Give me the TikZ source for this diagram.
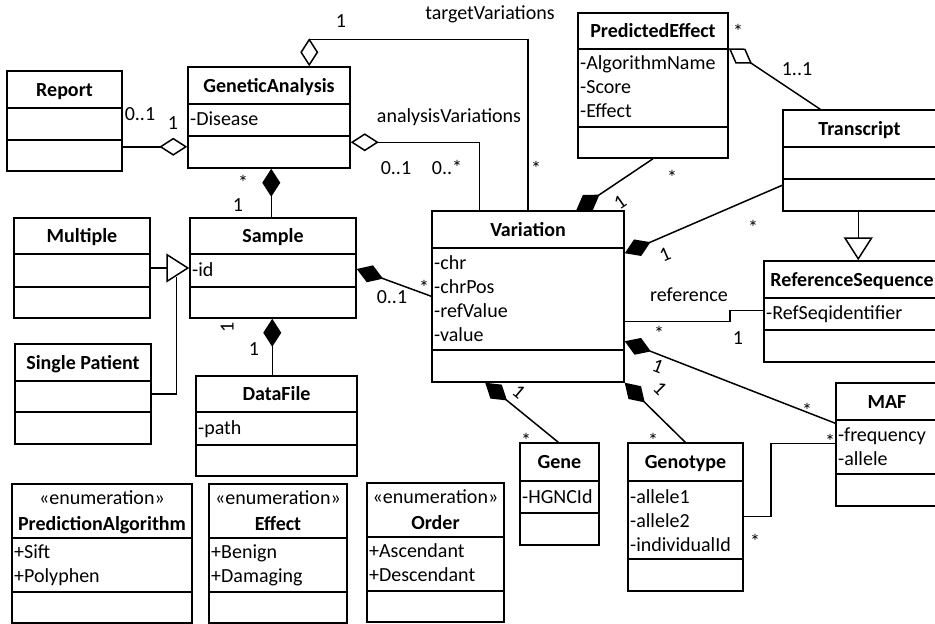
\documentclass[tikz,border=0pt]{standalone}
\usepackage{fontspec}
\setmainfont{Carlito}
\usetikzlibrary{arrows.meta,calc}

\tikzset{
  box/.style={draw, line width=1.5pt, inner sep=0pt},
  conn/.style={line width=1.5pt},
  txt/.style={font=\fontsize{20}{24}\selectfont, inner sep=0pt, text height=13pt, text depth=0pt},
  hdr/.style={txt, font=\fontsize{20}{24}\selectfont\bfseries},
  attr/.style={txt, anchor=west},
  lbl/.style={txt},
  star/.style={txt, yshift=-5pt},
  comp/.style={conn, {Diamond[length=28pt,width=18pt]}-},
  agg/.style={conn, {Diamond[open,length=28pt,width=18pt]}-},
  gen/.style={conn, -{Triangle[open,length=23pt,width=29pt]}},
}

% class box: name, x1, y1, x2, y2, first divider, second divider, title
\newcommand\umlclass[8]{%
  \node[box, minimum width={(#4-#2)*1pt}, minimum height={(#5-#3)*1pt}]
    (#1) at ({(#2+#4)/2},{(#3+#5)/2}) {};
  \draw[conn] (#2,#6) -- (#4,#6) (#2,#7) -- (#4,#7);
  \node[hdr] (#1-title) at ({(#2+#4)/2},{(#3+#6)/2}) {#8};
}
% attribute lines: class name, x of left edge, y of first line, list
\newcommand\umlattrs[4]{%
  \foreach \t [count=\i from 0] in {#4}
    \node[attr] (#1-a\i) at ({#2+2},{#3+24*\i}) {\t};
}

\begin{document}
\begin{tikzpicture}[x=1pt,y=-1pt]
\useasboundingbox (0,0) rectangle (935,624);
\clip (0,0) rectangle (935,624);

% classes
\umlclass{report}{7}{71}{122}{171}{108}{140}{Report}
\umlclass{ga}{188}{67}{350}{168}{104}{136}{GeneticAnalysis}
\umlattrs{ga}{188}{119}{-Disease}
\umlclass{multiple}{14}{218}{150}{318}{254}{287}{Multiple}
\umlclass{single}{15}{344}{151}{444}{381}{412}{Single Patient}
\umlclass{sample}{190}{218}{356}{318}{254}{287}{Sample}
\umlattrs{sample}{190}{270}{-id}
\umlclass{datafile}{196}{376}{357}{476}{412}{445}{DataFile}
\umlattrs{datafile}{196}{428}{-path}
\umlclass{var}{432}{211}{624}{382}{248}{350}{Variation}
\umlattrs{var}{432}{263}{-chr,-chrPos,-refValue,-value}
\umlclass{pe}{578}{13}{728}{158}{49}{127}{PredictedEffect}
\umlattrs{pe}{578}{63}{-AlgorithmName,-Score,-Effect}
\umlclass{transcript}{783}{110}{936}{211}{147}{179}{Transcript}
\umlclass{refseq}{764}{261}{940}{362}{298}{330}{ReferenceSequence}
\umlattrs{refseq}{764}{313}{-RefSeqidentifier}
\umlclass{maf}{836}{383}{938}{506}{420}{474}{MAF}
\umlattrs{maf}{836}{435}{-frequency,-allele}
\umlclass{gene}{520}{443}{599}{545}{481}{513}{Gene}
\umlattrs{gene}{520}{497}{-HGNCId}
\umlclass{genotype}{628}{443}{743}{591}{481}{559}{Genotype}
\umlattrs{genotype}{628}{497}{-allele1,-allele2,-individualId}

% enumerations
\umlclass{predalg}{12}{484}{192}{623}{538}{592}{}
\node[txt] (predalg-st) at (102,498) {«enumeration»};
\node[hdr] (predalg-nm) at (102,524) {PredictionAlgorithm};
\umlattrs{predalg}{12}{552}{+Sift,+Polyphen}
\umlclass{effect}{209}{484}{347}{623}{538}{592}{}
\node[txt] (effect-st) at (278,498) {«enumeration»};
\node[hdr] (effect-nm) at (278,524) {Effect};
\umlattrs{effect}{209}{552}{+Benign,+Damaging}
\umlclass{order}{367}{483}{504}{622}{537}{591}{}
\node[txt] (order-st) at (435.5,497) {«enumeration»};
\node[hdr] (order-nm) at (435.5,523) {Order};
\umlattrs{order}{367}{551}{+Ascendant,+Descendant}

% Report -- GeneticAnalysis
\coordinate (gaL) at ($(ga.south west)+(0,-22)$);
\draw[agg] (gaL) -- (gaL -| report.east);
\node[lbl] (l-rep1) at (140,114) {0..1};
\node[lbl] (l-rep2) at (173,123) {1};

% targetVariations
\coordinate (gaT) at ($(ga.north west)+(122,0)$);
\draw[agg] (gaT) -- ++(0,-27) -| (var.north);
\node[lbl] (l-tv0) at (341,21) {1};
\node[lbl] (l-tv) at (490,13) {targetVariations};
\node[star] (l-tv1) at (536,164) {*};

% analysisVariations
\coordinate (gaR) at ($(ga.north east)+(0,76)$);
\coordinate (varT) at ($(var.north west)+(48,0)$);
\draw[agg] (gaR) -| (varT);
\node[lbl] (l-av) at (449,116) {analysisVariations};
\node[lbl] (l-av0) at (396,168) {0..1};
\node[lbl] (l-av1) at (447,168) {0..*};

% GeneticAnalysis -- Sample
\coordinate (gaB) at ($(ga.south west)+(84,0)$);
\draw[comp] (gaB) -- (gaB |- sample.north);
\node[star] (l-gs0) at (243,178) {*};
\node[lbl] (l-gs1) at (238,205) {1};

% Multiple / Single Patient -- Sample
\draw[gen] (multiple.east) -- (sample.west);
\coordinate (genjoin) at ($(sample.west)+(-13,9)$);
\draw[conn] (single.east) -| (genjoin);

% Sample -- DataFile
\coordinate (sB) at ($(sample.south west)+(83,0)$);
\draw[comp] (sB) -- (sB |- datafile.north);
\node[lbl, rotate=90] (l-sd0) at (227,327) {1};
\node[lbl] (l-sd1) at (254,349) {1};

% Sample -- Variation
\draw[comp] ($(sample.east)+(0,1)$) -- ($(var.north west)+(0,86)$);
\node[lbl] (l-sv0) at (392,297) {0..1};
\node[star] (l-sv1) at (424,283) {*};

% Variation -- PredictedEffect
\draw[comp] ($(var.north west)+(145,0)$) -- (pe.south);
\node[lbl, rotate=35] (l-vp0) at (620,202) {1};
\node[star] (l-vp1) at (672,173) {*};

% Variation -- Transcript
\draw[comp] ($(var.north east)+(0,43)$) -- ($(transcript.north west)+(0,76)$);
\node[lbl, rotate=23] (l-vt0) at (665,255) {1};
\node[star] (l-vt1) at (753,223) {*};

% PredictedEffect -- Transcript
\draw[agg] ($(pe.north east)+(0,36)$) -- ($(transcript.north west)+(38,0)$);
\node[star] (l-pt0) at (738,27) {*};
\node[lbl] (l-pt1) at (797,69) {1..1};

% Transcript -- ReferenceSequence
\coordinate (trB) at ($(transcript.south west)+(76,0)$);
\draw[gen] (trB) -- (trB |- refseq.north);

% Variation -- ReferenceSequence
\coordinate (vR) at ($(var.north east)+(0,111)$);
\draw[conn] (vR) -- ($(vR)+(105,0)$) |- ($(refseq.north west)+(0,50)$);
\node[lbl] (l-ref) at (689,295) {reference};
\node[star] (l-vr0) at (659,329) {*};
\node[lbl] (l-vr1) at (738,338) {1};

% Variation -- MAF
\draw[comp] ($(var.north east)+(0,131)$) -- ($(maf.north west)+(0,41)$);
\node[lbl, rotate=-21] (l-vm0) at (658,366) {1};
\node[star] (l-vm1) at (807,406) {*};

% Variation -- Genotype
\draw[comp] (var.south east) -- ($(genotype.north west)+(58,0)$);
\node[lbl, rotate=-45] (l-vg0) at (660,388) {1};
\node[star] (l-vg1) at (653,436) {*};

% Variation -- Gene
\draw[comp] ($(var.south west)+(54,0)$) -- ($(gene.north west)+(39,0)$);
\node[lbl, rotate=-40] (l-vn0) at (519,392) {1};
\node[star] (l-vn1) at (526,436) {*};

% Genotype -- MAF
\coordinate (gtR) at ($(genotype.north east)+(0,74)$);
\draw[conn] (gtR) -- ($(gtR)+(27,0)$) |- ($(maf.north west)+(0,61)$);
\node[star] (l-gm0) at (755,537) {*};
\node[star] (l-gm1) at (830,437) {*};
\end{tikzpicture}
\end{document}
